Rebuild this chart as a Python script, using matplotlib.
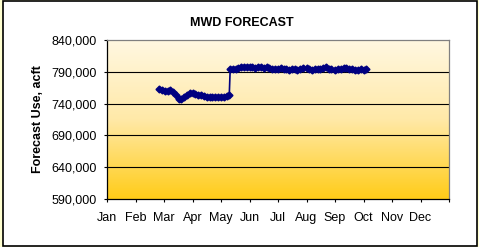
import matplotlib
matplotlib.use("Agg")
import matplotlib.pyplot as plt
import numpy as np
import pandas as pd
from matplotlib.patches import Rectangle
from matplotlib.colors import LinearSegmentedColormap
from matplotlib.ticker import FuncFormatter

plt.rcParams['font.family'] = ['Liberation Sans', 'DejaVu Sans']

# forecast dates and values (acft)
dates = [
    "2007-02-24", "2007-02-27", "2007-03-02", "2007-03-05", "2007-03-08",
    "2007-03-11", "2007-03-14", "2007-03-17", "2007-03-20", "2007-03-23",
    "2007-03-26", "2007-03-29", "2007-04-01", "2007-04-04", "2007-04-07",
    "2007-04-10", "2007-04-13", "2007-04-16", "2007-04-19", "2007-04-22",
    "2007-04-25", "2007-04-28", "2007-05-01", "2007-05-04", "2007-05-07",
    "2007-05-10", "2007-05-11", "2007-05-14", "2007-05-17", "2007-05-20",
    "2007-05-23", "2007-05-26", "2007-05-29", "2007-06-01", "2007-06-04",
    "2007-06-07", "2007-06-10", "2007-06-13", "2007-06-16", "2007-06-19",
    "2007-06-22", "2007-06-25", "2007-06-28", "2007-07-01", "2007-07-04",
    "2007-07-07", "2007-07-10", "2007-07-13", "2007-07-16", "2007-07-19",
    "2007-07-22", "2007-07-25", "2007-07-28", "2007-08-01", "2007-08-04",
    "2007-08-07", "2007-08-10", "2007-08-13", "2007-08-16", "2007-08-19",
    "2007-08-22", "2007-08-25", "2007-08-28", "2007-09-01", "2007-09-04",
    "2007-09-07", "2007-09-10", "2007-09-13", "2007-09-16", "2007-09-19",
    "2007-09-22", "2007-09-25", "2007-09-28", "2007-10-01", "2007-10-04",
]
forecast = [
    763, 761, 760, 760, 761,
    758, 753, 748, 747, 751,
    754, 756, 757, 755, 754,
    753, 752, 751, 751, 751,
    751, 751, 751, 751, 752,
    754, 794, 795, 795, 796,
    797, 798, 797, 797, 797,
    796, 797, 797, 796, 797,
    796, 795, 794, 794, 796,
    795, 794, 793, 794, 795,
    793, 794, 796, 796, 795,
    793, 794, 794, 795, 796,
    797, 795, 794, 793, 794,
    795, 796, 796, 795, 794,
    793, 793, 794, 793, 795,
]
forecast = [v * 1000 for v in forecast]

months = ["Jan", "Feb", "Mar", "Apr", "May", "Jun",
          "Jul", "Aug", "Sep", "Oct", "Nov", "Dec"]
y_ticks = [590000, 640000, 690000, 740000, 790000, 840000]

d = pd.to_datetime(dates)
x = (d.month - 1) + (d.day - 1) / d.days_in_month

fig = plt.figure(figsize=(4.79, 2.47), dpi=100)
fig.patch.set_facecolor('#FFFFD0')
W, H = 479, 247

# white chart area with black frame
bg = fig.add_axes([0, 0, 1, 1], zorder=-5)
bg.set_xlim(0, W)
bg.set_ylim(0, H)
bg.axis('off')
bg.add_patch(Rectangle((3.5, 1.5), 474, 244.5, facecolor='white',
                       edgecolor='black', linewidth=1.2))

ax = fig.add_axes([107 / W, (H - 199) / H, 342 / W, 159 / H])

# gradient plot background
cmap = LinearSegmentedColormap.from_list('bg', ['#FFCC18', '#FFE9A8', '#FFF8E2'])
grad = np.linspace(0, 1, 256).reshape(-1, 1)
ax.imshow(grad, cmap=cmap, aspect='auto', origin='lower',
          extent=[0, 1, 0, 1], transform=ax.transAxes, zorder=0)

ax.set_xlim(0, 12)
ax.set_ylim(y_ticks[0], y_ticks[-1])
ax.set_yticks(y_ticks)
ax.yaxis.set_major_formatter(FuncFormatter(lambda v, p: f"{int(v):,}"))
ax.set_xticks(range(13))
ax.set_xticklabels(months + [""])

for yv in y_ticks[1:-1]:
    ax.axhline(yv, color='black', linewidth=0.8, zorder=1)

ax.plot(x, forecast, color='#000080', linewidth=1.2, marker='D',
        markersize=3.5, zorder=3)

for s in ['top', 'right']:
    ax.spines[s].set_color('#808080')
for s in ['left', 'bottom']:
    ax.spines[s].set_color('black')
for s in ax.spines.values():
    s.set_linewidth(0.9)

ax.tick_params(axis='both', direction='out', length=2.5, width=0.8,
               labelsize=9, colors='black')
ax.tick_params(axis='y', pad=5)
ax.tick_params(axis='x', pad=7)

fig.text(242 / W, 1 - 22.7 / H, "MWD FORECAST", ha='center', va='center',
         fontsize=9, fontweight='bold')
fig.text(37.7 / W, 1 - 119.5 / H, "Forecast Use, acft", ha='center',
         va='center', rotation=90, fontsize=9, fontweight='bold')

fig.savefig("out.png", dpi=100)
